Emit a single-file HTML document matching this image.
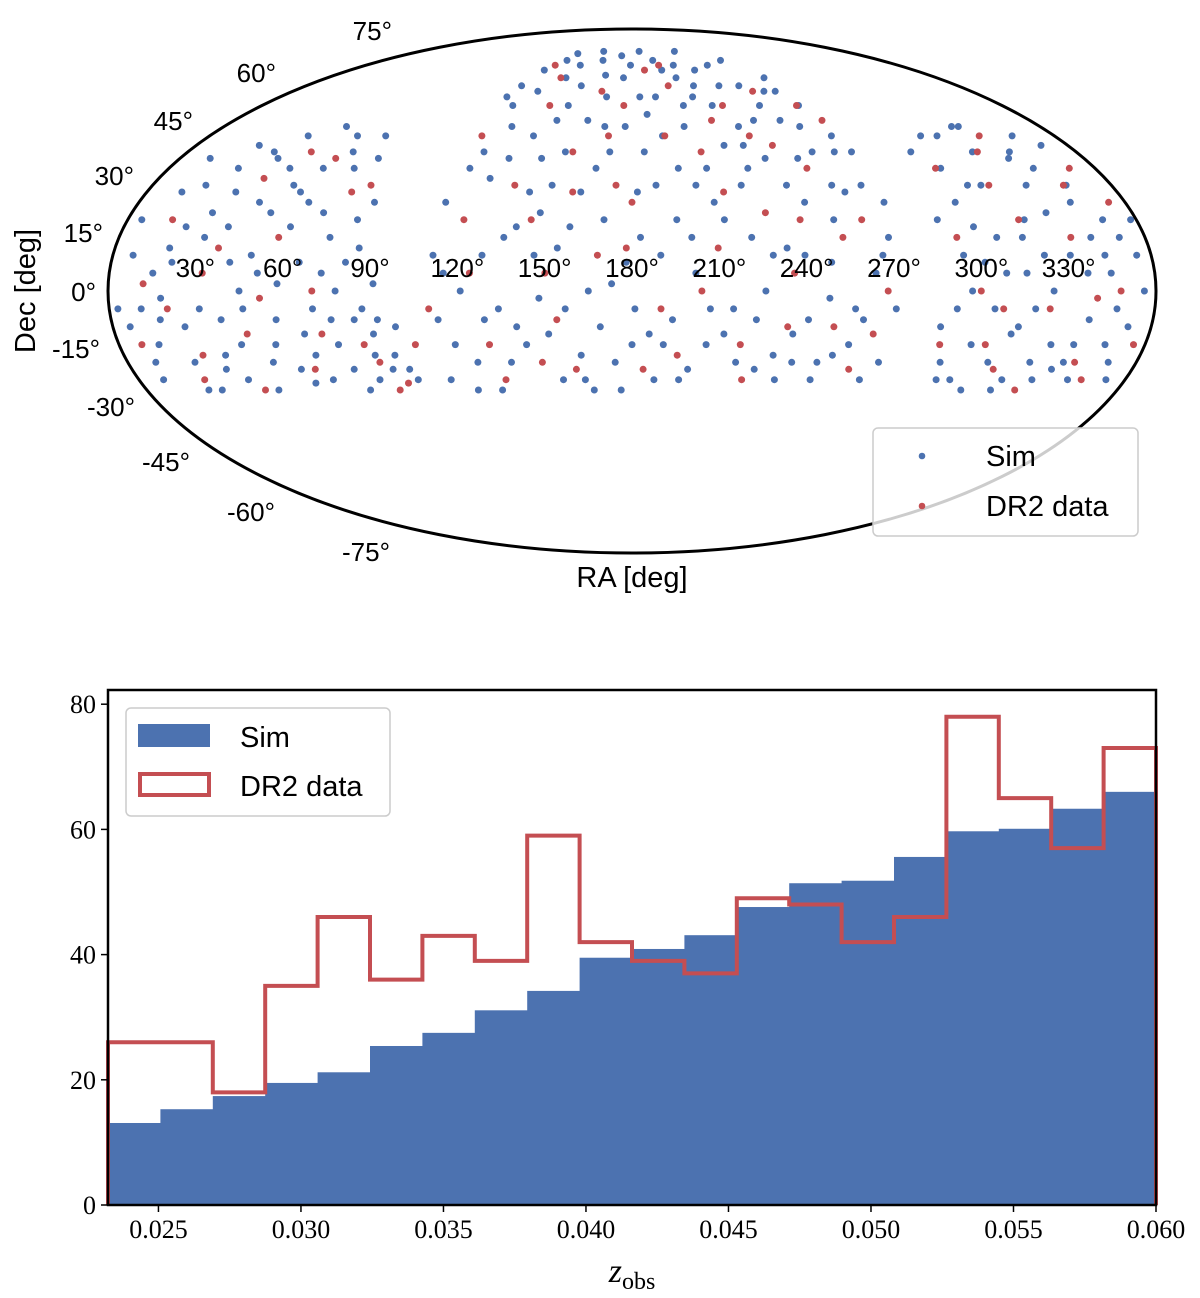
<!DOCTYPE html>
<html><head><meta charset="utf-8"><style>
html,body{margin:0;padding:0;background:#fff;}
svg{display:block;}
</style></head><body>
<svg id="fig" width="1200" height="1298" viewBox="0 0 1200 1298" xmlns="http://www.w3.org/2000/svg">
<g id="sky"></g>
<g id="hist"></g>
</svg>
<script>
// ---- Sky map data (ra,dec in degrees, estimated) ----
const simPoints = "10,-20 15,5 20,30 25,-10 30,15 35,40 40,-25 45,0 50,22 55,-15 60,35 65,8 70,-5 75,45 80,-22 85,12 90,-12 12,38 18,-2 22,18 28,-28 33,28 38,-8 42,45 48,10 52,-20 58,2 62,25 68,-18 72,35 78,0 82,20 88,-25 92,-8 96,-18 100,-22 7,10 14,-15 26,42 36,-18 44,25 54,48 64,-26 74,15 84,-8 3,-5 115,5 120,40 125,-20 130,60 135,15 140,-10 145,70 150,30 155,-25 160,50 165,0 170,20 175,65 180,-15 185,40 190,10 195,72 200,-22 205,55 210,25 215,-5 220,68 225,35 230,-18 235,50 240,10 245,-25 250,60 255,30 260,-8 265,45 270,15 112,25 118,-15 122,55 128,10 132,-28 138,45 142,28 148,-2 152,62 158,18 162,-18 168,48 172,74 178,8 182,28 188,-25 192,58 198,35 202,5 208,70 212,-12 218,42 222,15 228,62 232,-25 238,30 242,55 248,-2 252,20 258,65 262,40 268,-20 114,-25 124,68 134,-5 144,38 154,12 164,66 174,-20 184,58 194,-8 204,30 214,62 224,-22 234,12 244,72 254,48 264,5 136,75 156,76 186,76 216,76 236,-12 246,38 256,-15 266,30 126,32 146,50 166,35 196,20 206,-15 226,0 176,-28 290,-20 295,10 300,35 305,-5 310,45 315,-25 320,20 325,0 330,38 335,-15 340,25 345,5 350,-20 355,10 292,-5 298,25 302,-28 308,15 312,-12 318,40 322,-20 328,30 332,10 338,-8 342,45 348,20 352,-10 306,30 316,5 326,-25 336,35 346,-15 296,-25 324,48 5,20 9,-25 13,28 17,-8 21,8 24,-20 27,35 31,-5 34,-22 37,18 41,8 43,-15 47,35 49,-28 51,5 53,30 57,-8 59,18 61,-22 63,45 66,-12 69,22 71,-25 73,5 77,-15 79,38 81,8 83,-28 86,25 89,-18 91,2 94,-22 98,-10 102,-25 6,-10 11,-5 19,12 23,-28 29,22 39,38 46,-5 57,28 67,40 76,-8 87,-5 111,10 113,-8 117,35 119,62 121,0 123,-28 127,48 129,-8 131,38 133,72 137,-20 139,18 141,65 143,-15 147,22 149,55 151,-12 153,40 157,-5 159,72 161,28 163,-25 167,58 169,-10 171,40 173,2 177,48 179,70 181,-5 183,15 187,52 189,30 191,-15 193,45 197,-25 199,68 201,15 203,48 207,-5 209,35 211,58 213,20 217,-20 219,55 221,30 223,-8 227,48 229,10 231,70 233,38 237,-20 239,62 241,-8 243,25 247,50 249,8 251,-18 253,40 257,-5 259,28 261,55 263,-25 267,10 269,40 271,-5 272,25 116,58 146,10 166,-28 186,-12 206,65 226,42 246,-20 256,60 287,-10 289,20 291,-25 293,40 297,0 299,-15 301,18 303,45 307,-20 309,5 311,30 313,-28 317,15 319,-5 321,48 323,10 327,-15 329,22 331,-22 333,40 337,5 339,-25 341,15 343,30 347,-5 349,42 351,15 353,-25 356,0 358,20 302,8 314,-10 334,-20 344,10";
const dr2Points = "8,-15 16,20 24,-25 32,5 40,32 46,-12 56,15 66,-22 76,28 86,-15 94,-28 104,-15 20,-5 50,40 70,0 120,20 130,-15 140,55 150,5 160,-22 170,45 180,25 190,-5 200,62 210,12 220,-25 230,45 240,20 250,-10 260,55 268,0 128,70 148,-20 168,10 188,68 208,40 228,22 248,35 258,-22 116,45 136,30 156,40 176,55 196,-18 216,50 236,5 262,20 294,15 304,-15 314,30 324,-5 334,15 344,-25 354,25 300,0 320,40 340,-2 310,-22 350,35 12,2 28,-18 36,12 44,-28 52,-2 62,38 72,-12 82,30 90,-20 98,-26 110,-5 124,5 134,-25 144,20 154,-8 164,60 174,30 184,-22 194,45 204,0 214,28 224,55 234,-10 244,60 254,15 264,-12 138,65 158,28 178,12 198,70 218,-15 238,42 266,50 288,-15 298,35 308,-5 318,20 328,45 338,-20 348,0 356,-15 322,-28 342,30";
const raTicks = [30,60,90,120,150,180,210,240,270,300,330];
const decTicks = [75,60,45,30,15,0,-15,-30,-45,-60,-75];
// label anchor layout (right edge x, baseline y) for dec labels — layout only
const decLabelX = [392,276,193,134,103,96,100,135,190,275,390];
const decLabelY = [40,82,130,185,242,301,358,416,471,521,561];

// ---- Histogram data ----
const binCount = 20;
const simCounts = [13.1,15.3,17.4,19.5,21.2,25.4,27.5,31.1,34.2,39.5,40.9,43.1,47.6,51.4,51.8,55.6,59.7,60.1,63.3,66.0];
const dr2Counts = [26,26,18,35,46,36,43,39,59,42,39,37,49,48,42,46,78,65,57,73];
const xTickLabels = ["0.025","0.030","0.035","0.040","0.045","0.050","0.055","0.060"];
const yTickLabels = ["0","20","40","60","80"];

const NS="http://www.w3.org/2000/svg";
function mk(tag,attrs,parent){const e=document.createElementNS(NS,tag);for(const k in attrs)e.setAttribute(k,attrs[k]);parent.appendChild(e);return e;}
const BLUE="#4c72b0", RED="#c44e52";

// ---- Sky map ----
const sky=document.getElementById('sky');
const CX=632, CY=291, A=524, B=262;
function proj(ra,dec){
  const lam=(ra-180)*Math.PI/180, phi=dec*Math.PI/180;
  let t=phi;
  if(Math.abs(dec)<90){for(let i=0;i<30;i++){const f=2*t+Math.sin(2*t)-Math.PI*Math.sin(phi);const d=2+2*Math.cos(2*t);if(Math.abs(d)<1e-9)break;t-=f/d;}}
  return [CX+A*(lam/Math.PI)*Math.cos(t), CY-B*Math.sin(t)];
}
const ell=mk('ellipse',{cx:CX,cy:CY,rx:A,ry:B,fill:'#fff',stroke:'none'},sky);


function drawPts(str,color,name){
  const g=mk('g',{},sky);
  
  
  str.trim().split(/\s+/).forEach(p=>{const [r,d]=p.split(',').map(Number);const [x,y]=proj(r,d);
    const c=mk('circle',{cx:x.toFixed(1),cy:y.toFixed(1),r:3.5,fill:color},g);
    
    
  });
}
drawPts(simPoints,BLUE,'sim-series');
drawPts(dr2Points,RED,'dr2-series');
const border=mk('ellipse',{cx:CX,cy:CY,rx:A,ry:B,fill:'none',stroke:'#000','stroke-width':3},sky);


raTicks.forEach(r=>{const [x,y]=proj(r,0);
  const t=mk('text',{x:x,y:y-14,'font-family':'Liberation Sans, sans-serif','font-size':26,'text-anchor':'middle',fill:'#000'},sky);
  t.textContent=r+'°';
  
  
});
decTicks.forEach((d,i)=>{
  const t=mk('text',{x:decLabelX[i],y:decLabelY[i],'font-family':'Liberation Sans, sans-serif','font-size':26,'text-anchor':'end',fill:'#000'},sky);
  t.textContent=d+'°';
  
  
});
let t=mk('text',{x:632,y:587,'font-family':'Liberation Sans, sans-serif','font-size':29,'text-anchor':'middle'},sky);
t.textContent='RA [deg]';


t=mk('text',{x:0,y:0,'font-family':'Liberation Sans, sans-serif','font-size':29,'text-anchor':'middle',transform:'translate(35,291) rotate(-90)'},sky);
t.textContent='Dec [deg]';


const lg=mk('g',{},sky);


mk('rect',{x:873,y:428,width:265,height:108,rx:5,fill:'#fff','fill-opacity':0.8,stroke:'#ccc','stroke-width':1.5},lg);
mk('circle',{cx:922,cy:456,r:3.3,fill:BLUE},lg);
mk('circle',{cx:922,cy:506,r:3.3,fill:RED},lg);
t=mk('text',{x:986,y:466,'font-family':'Liberation Sans, sans-serif','font-size':29},lg);t.textContent='Sim';


t=mk('text',{x:986,y:516,'font-family':'Liberation Sans, sans-serif','font-size':29},lg);t.textContent='DR2 data';



// ---- Histogram ----
const hist=document.getElementById('hist');
const X0=108,X1=1156,Y0=1205,YT=690;
const zmin=0.02323, zmax=0.060;
const xs=z=>X0+(z-zmin)/(zmax-zmin)*(X1-X0);
const ys=v=>Y0-v*6.26;
const bw=(zmax-zmin)/binCount;
simCounts.forEach((v,i)=>{
  const xa=xs(zmin+i*bw), xb=xs(zmin+(i+1)*bw);
  const r=mk('rect',{x:xa,y:ys(v),width:xb-xa+0.6,height:Y0-ys(v),fill:BLUE},hist);
  
  
});
let d='M'+xs(zmin)+','+Y0;
dr2Counts.forEach((v,i)=>{d+=' L'+xs(zmin+i*bw)+','+ys(v)+' L'+xs(zmin+(i+1)*bw)+','+ys(v);});
d+=' L'+xs(zmax)+','+Y0;
const step=mk('path',{d:d,fill:'none',stroke:RED,'stroke-width':4},hist);


const frame=mk('rect',{x:X0,y:YT,width:X1-X0,height:Y0-YT,fill:'none',stroke:'#000','stroke-width':2.5},hist);


xTickLabels.forEach(s=>{const x=xs(parseFloat(s));
  mk('line',{x1:x,x2:x,y1:Y0,y2:Y0+7,stroke:'#000','stroke-width':1.5},hist);
  const tt=mk('text',{x:x,y:Y0+33,'font-family':'Liberation Serif, serif','font-size':26,'text-anchor':'middle'},hist);
  tt.textContent=s;
  
  
});
yTickLabels.forEach(s=>{const y=ys(parseFloat(s));
  mk('line',{x1:X0-7,x2:X0,y1:y,y2:y,stroke:'#000','stroke-width':1.5},hist);
  const tt=mk('text',{x:X0-12,y:y+9,'font-family':'Liberation Serif, serif','font-size':26,'text-anchor':'end'},hist);
  tt.textContent=s;
  
  
});
t=mk('text',{x:632,y:1282,'font-family':'Liberation Serif, serif','font-size':34,'text-anchor':'middle'},hist);
t.innerHTML='<tspan font-style="italic">z</tspan><tspan font-size="24" dy="7">obs</tspan>';


const hl=mk('g',{},hist);


mk('rect',{x:126,y:708,width:264,height:108,rx:5,fill:'#fff','fill-opacity':0.8,stroke:'#ccc','stroke-width':1.5},hl);
mk('rect',{x:138,y:724,width:72,height:23,fill:BLUE},hl);
mk('rect',{x:140,y:774,width:69,height:21,fill:'none',stroke:RED,'stroke-width':4},hl);
t=mk('text',{x:240,y:747,'font-family':'Liberation Sans, sans-serif','font-size':29},hl);t.textContent='Sim';


t=mk('text',{x:240,y:796,'font-family':'Liberation Sans, sans-serif','font-size':29},hl);t.textContent='DR2 data';


</script>
</body></html>
